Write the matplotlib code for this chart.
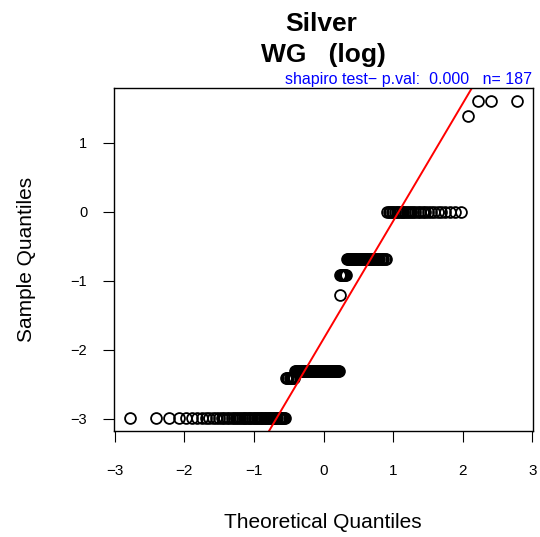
import matplotlib
matplotlib.use('Agg')
import matplotlib.pyplot as plt
import numpy as np
from statistics import NormalDist

# sample values (log scale) and how many observations sit at each level
sample_levels = [-2.996, -2.408, -2.303, -1.204, -0.916, -0.693, 0.000, 1.386, 1.609]
level_counts = [55, 8, 47, 1, 7, 35, 30, 1, 3]
x_ticks = [-3, -2, -1, 0, 1, 2, 3]
y_ticks = [-3, -2, -1, 0, 1]
title_lines = ['Silver', 'WG   (log)']
test_text = 'shapiro test\u2212 p.val:  0.000   n= 187'

plt.rcParams['font.family'] = ['Liberation Sans', 'DejaVu Sans']

sample = np.repeat(sample_levels, level_counts)
n = len(sample)
nd = NormalDist()
probs = (np.arange(1, n + 1) - 0.5) / n
theo = np.array([nd.inv_cdf(p) for p in probs])

fig = plt.figure(figsize=(5.4, 5.37), dpi=100)
W, H = 540, 537
ax = fig.add_axes([114 / W, 1 - 431 / H, 419 / W, 343 / H])

ax.plot(theo, sample, 'o', mfc='none', mec='black', ms=7.8, mew=1.3)

# qqline through the quartiles
q1, q3 = np.quantile(sample, [0.25, 0.75])
t1, t3 = nd.inv_cdf(0.25), nd.inv_cdf(0.75)
slope = (q3 - q1) / (t3 - t1)
ax.axline((t1, q1), slope=slope, color='red', lw=1.4)

xr = theo.max() - theo.min()
yr = sample.max() - sample.min()
ax.set_xlim(theo.min() - 0.04 * xr, theo.max() + 0.04 * xr)
ax.set_ylim(sample.min() - 0.04 * yr, sample.max() + 0.04 * yr)

ax.set_xticks(x_ticks)
ax.set_yticks(y_ticks)
ax.set_xticklabels([str(t).replace('-', '\u2212') for t in x_ticks])
ax.set_yticklabels([str(t).replace('-', '\u2212') for t in y_ticks])
ax.tick_params(axis='x', length=7.7, width=0.8, pad=16, labelsize=11)
ax.tick_params(axis='y', length=7.7, width=0.8, pad=11.5, labelsize=10.5)
for s in ax.spines.values():
    s.set_linewidth(1.0)

fig.text(321 / W, 1 - 31 / H, title_lines[0], ha='center', va='baseline',
         fontsize=19, fontweight='bold')
fig.text(323 / W, 1 - 62 / H, title_lines[1], ha='center', va='baseline',
         fontsize=19, fontweight='bold')
fig.text(532 / W, 1 - 84 / H, test_text, ha='right', va='baseline',
         fontsize=11.5, color='blue')
fig.text(323 / W, 1 - 528 / H, 'Theoretical Quantiles', ha='center', va='baseline',
         fontsize=15)
fig.text(27 / W, 1 - 259 / H, 'Sample Quantiles', ha='center', va='center',
         rotation=90, fontsize=15)

fig.savefig('out.png', dpi=100)
